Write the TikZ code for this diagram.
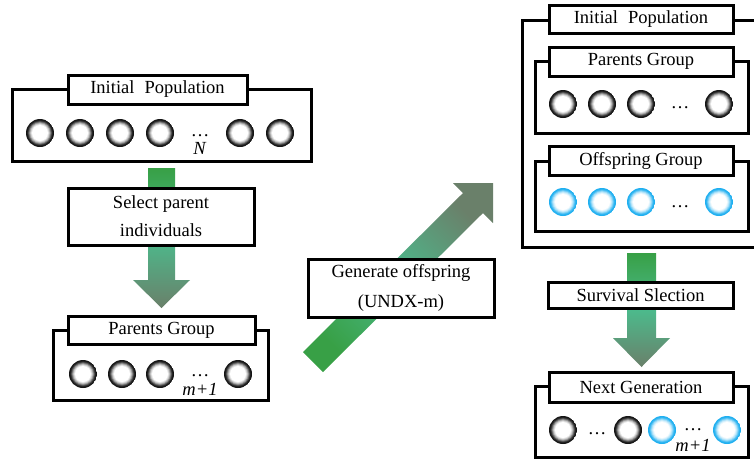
\documentclass[tikz,border=0pt]{standalone}
\usepackage{fontspec}
\setmainfont{Liberation Serif}
\definecolor{gA}{RGB}{56,160,70}
\definecolor{gB}{RGB}{76,186,140}
\definecolor{gC}{RGB}{106,128,106}
\definecolor{cy}{RGB}{30,175,240}
\begin{document}
\begin{tikzpicture}[x=1pt,y=-1pt,
  font=\fontsize{18.5}{28}\selectfont,
  frame/.style={draw, line width=3pt, rectangle, inner sep=0pt},
  tag/.style={draw, fill=white, line width=3pt, rectangle, inner sep=0pt},
  kball/.style={circle, minimum size=28pt, inner sep=0pt, path picture={
     \foreach \r/\c in {14/92,13/86,12/68,11/45,10/25,9/10,8/0}
       \fill[black!\c] (path picture bounding box.center) circle (\r pt);}},
  cball/.style={circle, minimum size=28pt, inner sep=0pt, path picture={
     \foreach \r/\c in {14/100,13/92,12/70,11/45,10/25,9/10,8/0}
       \fill[cy!\c] (path picture bounding box.center) circle (\r pt);}},
  txt/.style={inner sep=0pt},
  garrow/.style={top color=gA, bottom color=gC, middle color=gB}
]
\clip (0,0) rectangle (754,459);

% ---------- block arrows ----------
\shade[garrow] (148,168) -- (175,168) -- (175,280) -- (190,280) -- (161.5,308)
   -- (133,280) -- (148,280) -- cycle;
\shade[garrow] (627,253) -- (656,253) -- (656,338) -- (670,338) -- (641.5,367)
   -- (613,338) -- (627,338) -- cycle;
\shade[top color=gC, bottom color=gA, middle color=gB, shading angle=-45]
   (303,352) -- (463,193) -- (453,183) -- (493,183) -- (493,223) -- (483,213)
   -- (323,372) -- cycle;

% ---------- left: initial population ----------
\node[frame, minimum width=299pt, minimum height=72pt] (ipL) at (161.5,125) {};
\node[tag, minimum width=179pt, minimum height=29pt] (ipLt) at (157.5,89.5) {Initial\hspace{10pt}Population};
\foreach \x [count=\i] in {40,80,120,160,240,280}
  \node[kball] (ipL\i) at (\x,133) {};
\node[txt] (ipLd) at (200,136) {…};
\node[txt] (ipLn) at (200,148) {\textit{N}};

% ---------- select box ----------
\node[tag, minimum width=186pt, minimum height=57pt, align=center] (sel) at (161,216.5)
  {Select parent\\individuals};

% ---------- left: parents group ----------
\node[frame, minimum width=215pt, minimum height=70pt] (pgL) at (160.5,365) {};
\node[tag, minimum width=187pt, minimum height=28pt] (pgLt) at (161.5,330) {Parents Group};
\foreach \x [count=\i] in {83,122,160,238}
  \node[kball] (pgL\i) at (\x,374) {};
\node[txt] (pgLd) at (200,376) {…};
\node[txt] (pgLm) at (200,389) {\textit{m+1}};

% ---------- generate box ----------
\node[tag, minimum width=186pt, minimum height=58pt, align=center] (gen) at (401,288)
  {Generate offspring\\[2pt](UNDX-m)};

% ---------- right: initial population ----------
\node[frame, minimum width=248pt, minimum height=227pt] (ipR) at (646,133.5) {};
\node[tag, minimum width=184pt, minimum height=28pt] (ipRt) at (641,19) {Initial\hspace{10pt}Population};

\node[frame, minimum width=213pt, minimum height=72pt] (pgR) at (641.5,97) {};
\node[tag, minimum width=184pt, minimum height=29pt] (pgRt) at (641,61.5) {Parents Group};
\foreach \x [count=\i] in {563,602,641,719}
  \node[kball] (pgR\i) at (\x,104) {};
\node[txt] (pgRd) at (680,108) {…};

\node[frame, minimum width=213pt, minimum height=70pt] (ofR) at (641.5,196) {};
\node[tag, minimum width=184pt, minimum height=29pt] (ofRt) at (641,160.5) {Offspring Group};
\foreach \x [count=\i] in {563,602,641,719}
  \node[cball] (ofR\i) at (\x,202) {};
\node[txt] (ofRd) at (680,207) {…};

% ---------- survival box ----------
\node[tag, minimum width=185pt, minimum height=26pt] (sur) at (640.5,295) {Survival Slection};

% ---------- next generation ----------
\node[frame, minimum width=213pt, minimum height=71pt] (ngR) at (641.5,421.5) {};
\node[tag, minimum width=184pt, minimum height=30pt] (ngRt) at (641,387) {Next Generation};
\node[kball] (ng1) at (563,430) {};
\node[kball] (ng2) at (628,430) {};
\node[cball] (ng3) at (662,430) {};
\node[cball] (ng4) at (727,430) {};
\node[txt] (ngd1) at (597,434) {…};
\node[txt] (ngd2) at (693,430) {…};
\node[txt] (ngm) at (693,445) {\textit{m+1}};
\end{tikzpicture}
\end{document}
